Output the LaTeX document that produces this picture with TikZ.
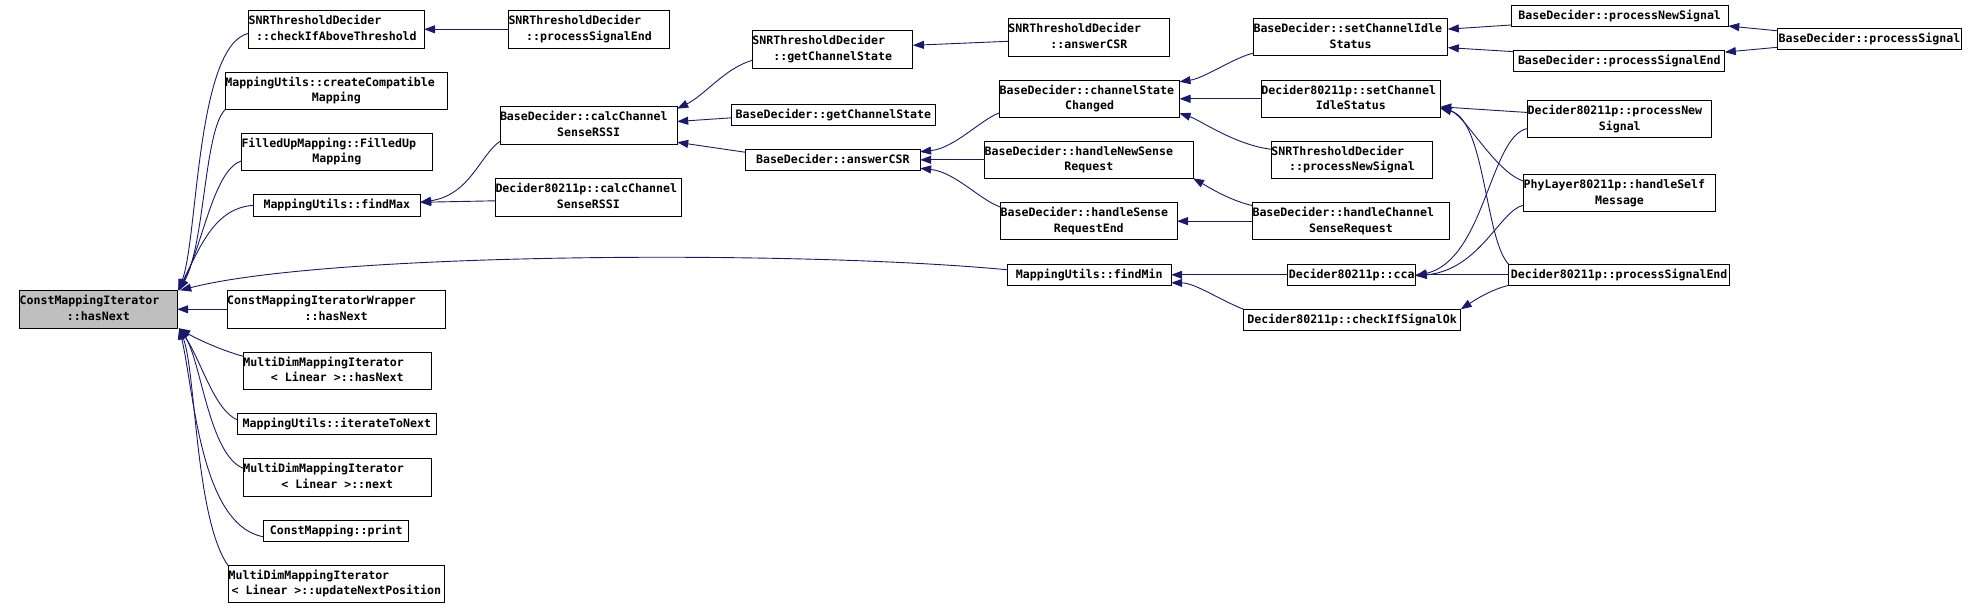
\documentclass[tikz,border=0pt]{standalone}
\usepackage{fontspec}
\setmonofont{DejaVu Sans Mono}
\usetikzlibrary{arrows.meta,calc}
\definecolor{edgecol}{HTML}{191970}
\definecolor{hlgray}{HTML}{BFBFBF}
\tikzset{
 box/.style={draw=black, line width=1pt, fill=white, inner sep=0pt, outer sep=0pt},
 lbl/.style={inner sep=0pt, outer sep=0pt, font=\fontsize{11.6}{14}\selectfont\ttfamily\bfseries},
 edge/.style={draw=edgecol, line width=0.9pt, -{Triangle[length=11pt,width=8pt,fill=edgecol]}},
}
\newcommand\bxA[7][]{%
 \node[box,#1,minimum width={(#5-#3)*1pt},minimum height={(#6-#4)*1pt}] (#2) at ({(#3+#5)/2},{(#4+#6)/2}) {};
 \node[lbl,anchor=base] at ({(#3+#5)/2},{(#4+#6)/2+3.5}) {#7};}
\newcommand\bxB[8][]{%
 \node[box,#1,minimum width={(#5-#3)*1pt},minimum height={(#6-#4)*1pt}] (#2) at ({(#3+#5)/2},{(#4+#6)/2}) {};
 \node[lbl,anchor=base west] at ({#3},{(#4+#6)/2-4.5}) {#7};
 \node[lbl,anchor=base] at ({(#3+#5)/2},{(#4+#6)/2+11}) {#8};}
\begin{document}
\begin{tikzpicture}[x=1pt,y=-1pt]
\useasboundingbox[fill=white] (0,0) rectangle (1977,609);
% column 1
\bxB[fill=hlgray]{hasNext}{19.6}{290.3}{177.2}{328.3}{ConstMappingIterator}{::hasNext}
% column 2
\bxB{cIAT}{248.7}{10.3}{424.1}{48.3}{SNRThresholdDecider}{::checkIfAboveThreshold}
\bxB{cCM}{225.4}{72.3}{447.3}{109.3}{MappingUtils::createCompatible}{Mapping}
\bxB{fum}{241.5}{133.3}{432.1}{170.3}{FilledUpMapping::FilledUp}{Mapping}
\bxA{findMax}{253.6}{194.3}{420.1}{216.3}{MappingUtils::findMax}
\bxB{cmiw}{227.2}{290.3}{445.1}{328.3}{ConstMappingIteratorWrapper}{::hasNext}
\bxB{mh}{243.3}{352.3}{431.3}{389}{MultiDimMappingIterator}{< Linear >::hasNext}
\bxA{it}{237.5}{413.7}{436.2}{434.3}{MappingUtils::iterateToNext}
\bxB{mn}{243.3}{458.3}{431.3}{496.3}{MultiDimMappingIterator}{< Linear >::next}
\bxA{pr}{263.4}{520.3}{408.9}{541.3}{ConstMapping::print}
\bxB{un}{228.6}{565.3}{444.2}{602.3}{MultiDimMappingIterator}{< Linear >::updateNextPosition}
% column 3
\bxB{snrPSE}{508.5}{10.3}{669.6}{48.3}{SNRThresholdDecider}{::processSignalEnd}
\bxB{bdCCS}{500}{106.7}{677.2}{144.3}{BaseDecider::calcChannel}{SenseRSSI}
\bxB{dCCS}{495.5}{178.3}{681.3}{216.3}{Decider80211p::calcChannel}{SenseRSSI}
% column 4
\bxB{sGCS}{752.4}{30.3}{912.9}{68.3}{SNRThresholdDecider}{::getChannelState}
\bxA{bGCS}{731.6}{104.3}{935.2}{125.3}{BaseDecider::getChannelState}
\bxA{bACSR}{745.6}{149.3}{920.1}{170.3}{BaseDecider::answerCSR}
% column 5
\bxB{sACSR}{1008.4}{18.3}{1169.3}{56.3}{SNRThresholdDecider}{::answerCSR}
\bxB{cSC}{999.6}{80.3}{1179.5}{117.3}{BaseDecider::channelState}{Changed}
\bxB{hNSR}{984.6}{141.3}{1193}{178.3}{BaseDecider::handleNewSense}{Request}
\bxB{hSRE}{1000.6}{202.3}{1177}{240}{BaseDecider::handleSense}{RequestEnd}
\bxA{findMin}{1007.4}{264.3}{1171.2}{285.3}{MappingUtils::findMin}
% column 6
\bxB{bdSCIS}{1253.5}{18.3}{1447.8}{56}{BaseDecider::setChannelIdle}{Status}
\bxB{dSCIS}{1261.4}{80.3}{1440.3}{117.3}{Decider80211p::setChannel}{IdleStatus}
\bxB{snrPNS}{1271.4}{141.3}{1432.4}{178.3}{SNRThresholdDecider}{::processNewSignal}
\bxB{hCSR}{1252.5}{202.3}{1449.3}{240}{BaseDecider::handleChannel}{SenseRequest}
\bxA{cca}{1287.7}{264.3}{1415.6}{285.3}{Decider80211p::cca}
\bxA{cSOk}{1243.6}{309.3}{1460.7}{330.3}{Decider80211p::checkIfSignalOk}
% column 7
\bxA{bdPNS}{1511.2}{5.7}{1728.2}{26.3}{BaseDecider::processNewSignal}
\bxA{bdPSE}{1513.7}{50.3}{1724.8}{72}{BaseDecider::processSignalEnd}
\bxB{dPNS}{1527.6}{101}{1711.9}{138}{Decider80211p::processNew}{Signal}
\bxB{phy}{1523.6}{174.3}{1715.4}{212}{PhyLayer80211p::handleSelf}{Message}
\bxA{dPSE}{1508.7}{264.3}{1729.7}{285.3}{Decider80211p::processSignalEnd}
% column 8
\bxA{bdPS}{1777.3}{28.3}{1961.6}{49.3}{BaseDecider::processSignal}
% ---------------- edges
\draw[edge] (snrPSE.west) -- (cIAT.east);
\draw[edge] ($(cIAT.west)+(0,4)$) .. controls (196,45) and (198,240) .. ($(hasNext.north east)+(1,0)$);
\draw[edge] (cCM.south west) .. controls (204,130) and (205,245) .. ($(hasNext.north east)+(2,0)$);
\draw[edge] ($(fum.west)+(0,9)$) .. controls (214,170) and (204,240) .. ($(hasNext.north east)+(2,0)$);
\draw[edge] (findMax.west) .. controls (215,208) and (201,245) .. ($(hasNext.north east)+(1,0)$);
\draw[edge] ($(findMin.west)+(0,-5)$) .. controls (800,250) and (330,252) .. ($(hasNext.north east)+(3,0)$);
\draw[edge] (cmiw.west) -- (hasNext.east);
\draw[edge] ($(mh.north west)+(0,4)$) .. controls (220,350) and (195,338) .. ($(hasNext.south east)+(2,0)$);
\draw[edge] ($(it.west)+(0,-4)$) .. controls (214,410) and (201,360) .. ($(hasNext.south east)+(2,0)$);
\draw[edge] ($(mn.north west)+(0,10)$) .. controls (209,455) and (201,360) .. ($(hasNext.south east)+(2,0)$);
\draw[edge] ($(pr.west)+(0,6)$) .. controls (200,525) and (194,390) .. ($(hasNext.south east)+(2,0)$);
\draw[edge] ($(un.north west)+(0,1)$) .. controls (195,520) and (196,370) .. ($(hasNext.south east)+(2,0)$);
\draw[edge] ($(bdCCS.south west)+(0,-3)$) .. controls (480,155) and (470,195) .. ($(findMax.east)+(0,-3)$);
\draw[edge] ($(dCCS.west)+(0,3.5)$) -- ($(findMax.east)+(0,-3)$);
\draw[edge] ($(sGCS.west)+(0,11)$) .. controls (725,68) and (705,95) .. ($(bdCCS.north east)+(0,2)$);
\draw[edge] ($(bGCS.west)+(0,3)$) -- ($(bdCCS.east)+(0,-4)$);
\draw[edge] ($(bACSR.north west)+(0,3)$) -- ($(bdCCS.south east)+(0,-2)$);
\draw[edge] ($(sACSR.west)+(0,4)$) -- ($(sGCS.east)+(0,-4)$);
\draw[edge] ($(cSC.west)+(0,14)$) .. controls (980,120) and (955,148) .. ($(bACSR.east)+(0,-8)$);
\draw[edge] (hNSR.west) -- (bACSR.east);
\draw[edge] ($(hSRE.west)+(0,-14)$) .. controls (980,200) and (955,172) .. ($(bACSR.east)+(0,8.5)$);
\draw[edge] ($(bdSCIS.west)+(0,16)$) .. controls (1235,57) and (1205,78) .. ($(cSC.north east)+(0,1.5)$);
\draw[edge] (dSCIS.west) -- (cSC.east);
\draw[edge] ($(snrPNS.west)+(0,-10.5)$) .. controls (1235,145) and (1200,120) .. ($(cSC.south east)+(0,-4)$);
\draw[edge] ($(hCSR.west)+(0,-15.5)$) .. controls (1228,200) and (1205,185) .. (hNSR.south east);
\draw[edge] (hCSR.west) -- (hSRE.east);
\draw[edge] ($(bdPNS.west)+(0,9)$) -- ($(bdSCIS.east)+(0,-8)$);
\draw[edge] ($(bdPSE.west)+(0,-9.5)$) -- ($(bdSCIS.east)+(0,10.5)$);
\draw[edge] ($(bdPS.west)+(0,-8)$) -- ($(bdPNS.east)+(0,10)$);
\draw[edge] ($(bdPS.west)+(0,8.5)$) -- ($(bdPSE.east)+(0,-9)$);
\draw[edge] ($(dPNS.west)+(0,-7)$) -- ($(dSCIS.east)+(0,8)$);
\draw[edge] ($(phy.west)+(0,-12)$) .. controls (1495,172) and (1465,115) .. ($(dSCIS.east)+(0,9)$);
\draw[edge] (dPSE.north west) .. controls (1485,240) and (1485,120) .. ($(dSCIS.east)+(0,9.5)$);
\draw[edge] ($(dPNS.west)+(0,9)$) .. controls (1490,135) and (1485,260) .. ($(cca.east)+(0,1)$);
\draw[edge] ($(phy.west)+(0,12)$) .. controls (1500,210) and (1480,270) .. ($(cca.east)+(0,1)$);
\draw[edge] (dPSE.west) -- (cca.east);
\draw[edge] (cca.west) -- (findMin.east);
\draw[edge] (cSOk.north west) .. controls (1220,300) and (1195,283) .. ($(findMin.east)+(0,8)$);
\draw[edge] (dPSE.south west) .. controls (1490,290) and (1475,300) .. (cSOk.north east);
\end{tikzpicture}
\end{document}
